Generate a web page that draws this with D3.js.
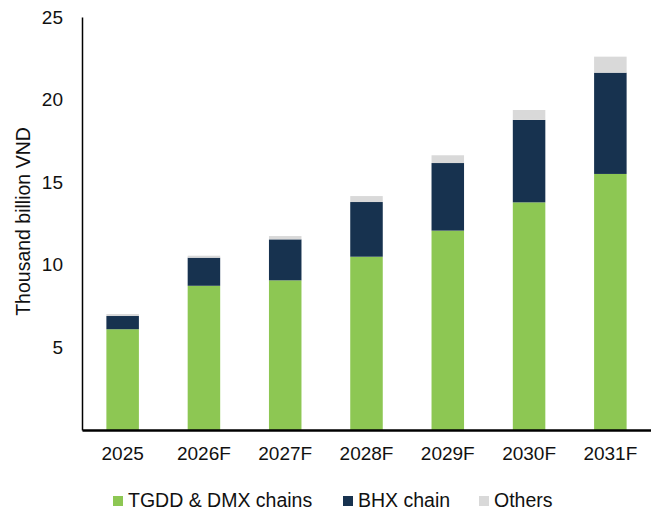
<!DOCTYPE html>
<html>
<head>
<meta charset="utf-8">
<script src="https://cdn.jsdelivr.net/npm/d3@7"></script>
<style>
  body { margin: 0; background: #fff; }
  svg { display: block; font-family: "Liberation Sans", Arial, sans-serif; }
</style>
</head>
<body>
<svg id="chart"></svg>
<script>
const years = ['2025', '2026F', '2027F', '2028F', '2029F', '2030F', '2031F'];
const tgdd = [6.1, 8.73, 9.06, 10.49, 12.07, 13.78, 15.5];
const bhx = [0.8, 1.7, 2.48, 3.31, 4.09, 4.99, 6.13];
const others = [0.12, 0.12, 0.2, 0.36, 0.47, 0.6, 0.97];
const seriesNames = ['TGDD & DMX chains', 'BHX chain', 'Others'];
const yTicks = [5, 10, 15, 20, 25];

const colors = ['#8dc753', '#17324f', '#d9d9d9'];

let width = 651;
let height = 512;
let mLeft = 82, mTop = 17, mBottom = 430, mRight = 651;

let svg = d3.select('#chart')
            .attr('width', width)
            .attr('height', height);

const rows = years.map((yr, i) => ({year: yr, s0: tgdd[i], s1: bhx[i], s2: others[i]}));
const stacked = d3.stack().keys(['s0', 's1', 's2'])(rows);

let x = d3.scaleBand().domain(years).range([mLeft, mRight]).paddingInner(0.6).paddingOuter(0.3);
let y = d3.scaleLinear().domain([0, 25]).range([mBottom, mTop]);

// bars
svg.append('g')
    .selectAll('g')
    .data(stacked)
    .join('g')
    .attr('fill', (d, i) => colors[i])
    .selectAll('rect')
    .data(d => d)
    .join('rect')
    .attr('x', d => x(d.data.year))
    .attr('width', x.bandwidth())
    .attr('y', d => y(d[1]))
    .attr('height', d => y(d[0]) - y(d[1]));

// y axis
let yAxis = svg.append('g')
    .attr('transform', `translate(${mLeft},0)`)
    .call(d3.axisLeft(y).tickValues(yTicks).tickSize(0).tickPadding(19));
yAxis.select('.domain').attr('stroke', '#000').attr('stroke-width', 1.5);
yAxis.selectAll('text').attr('font-size', 19).attr('fill', '#111').attr('font-family', null);

// x axis
let xAxis = svg.append('g')
    .attr('transform', `translate(0,${mBottom})`)
    .call(d3.axisBottom(x).tickSize(0).tickPadding(17));
xAxis.select('.domain').attr('stroke', '#000').attr('stroke-width', 2.5);
xAxis.selectAll('text').attr('font-size', 19).attr('fill', '#111').attr('font-family', null);

// y title
svg.append('text')
    .attr('transform', `translate(30,${(120 + 323) / 2}) rotate(-90)`)
    .attr('text-anchor', 'middle')
    .attr('font-size', 19.5)
    .attr('fill', '#111')
    .text('Thousand billion VND');

// legend
const legendX = [113, 343, 479];
let legend = svg.append('g')
    .selectAll('g')
    .data(seriesNames)
    .join('g')
    .attr('transform', (d, i) => `translate(${legendX[i]},496)`);
legend.append('rect')
    .attr('width', 10)
    .attr('height', 10)
    .attr('fill', (d, i) => colors[i]);
legend.append('text')
    .attr('x', 15)
    .attr('y', 10.5)
    .attr('font-size', 19.5)
    .attr('fill', '#111')
    .text(d => d);
</script>
</body>
</html>
